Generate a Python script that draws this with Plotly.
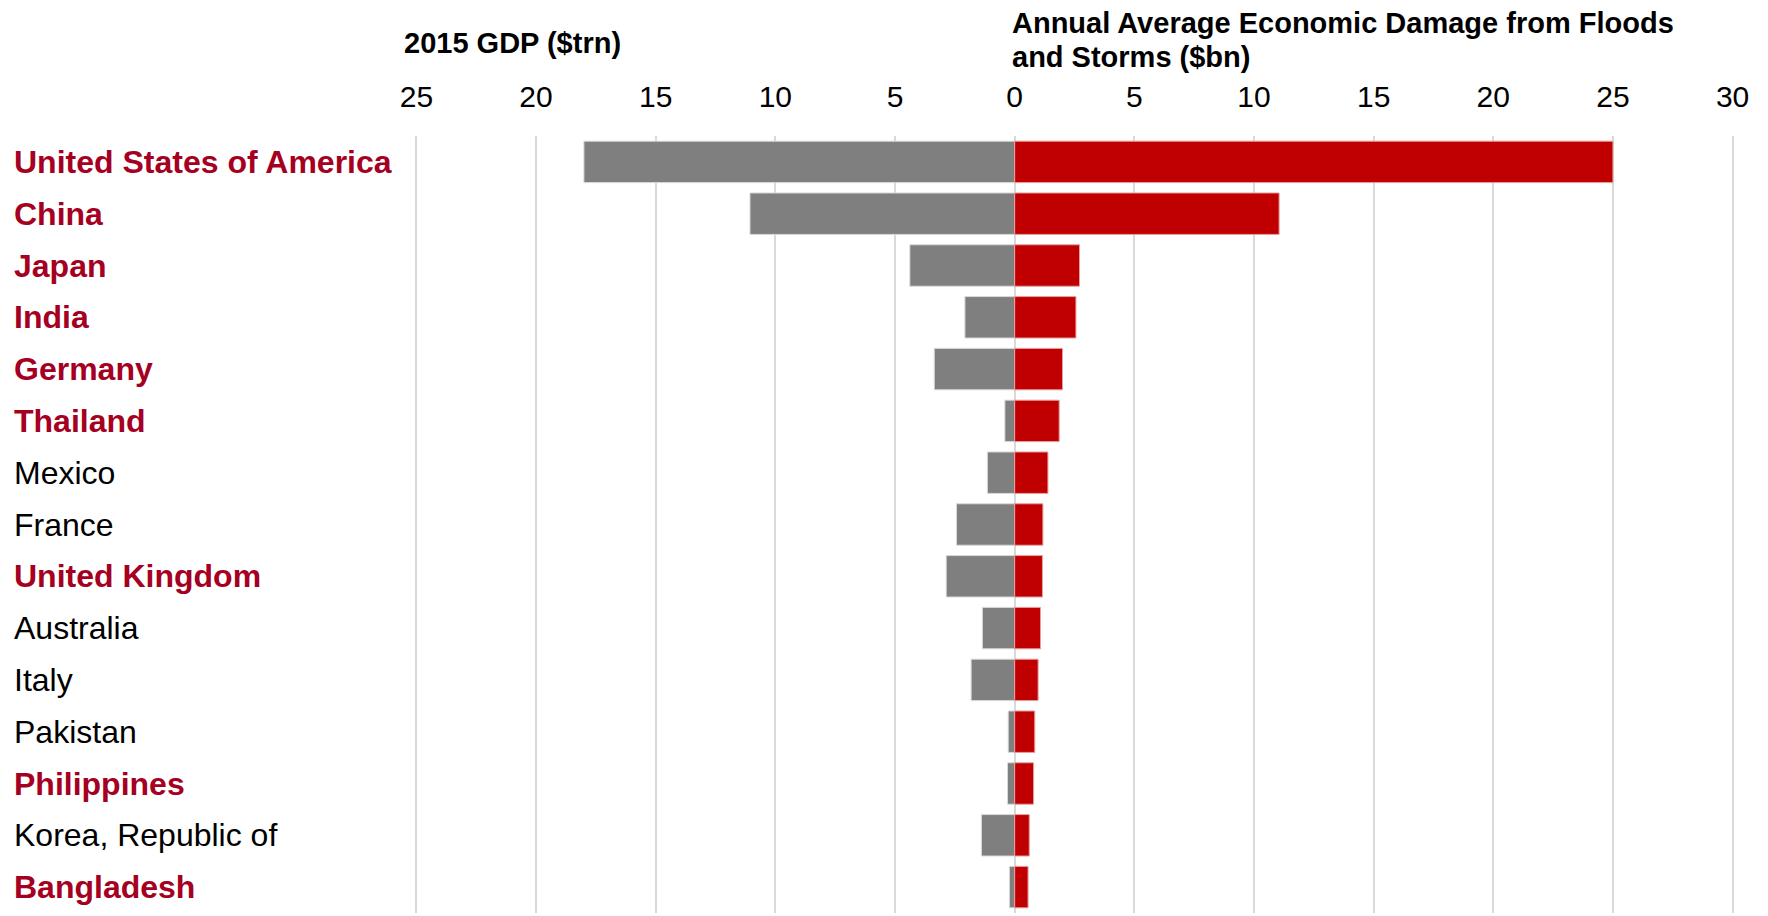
import plotly.graph_objects as go

countries = ["United States of America", "China", "Japan", "India", "Germany", "Thailand",
             "Mexico", "France", "United Kingdom", "Australia", "Italy", "Pakistan",
             "Philippines", "Korea, Republic of", "Bangladesh"]
highlight = [True, True, True, True, True, True, False, False, True, False, False, False,
             True, False, True]
gdp_trn = [18.0, 11.06, 4.38, 2.08, 3.36, 0.41, 1.14, 2.43, 2.86, 1.35, 1.82, 0.27, 0.30, 1.39, 0.22]
damage_bn = [25.0, 11.05, 2.71, 2.56, 2.0, 1.86, 1.39, 1.18, 1.16, 1.08, 0.98, 0.84, 0.79, 0.61, 0.56]
tick_vals = [-25, -20, -15, -10, -5, 0, 5, 10, 15, 20, 25, 30]
tick_text = ["25", "20", "15", "10", "5", "0", "5", "10", "15", "20", "25", "30"]

FONT = "Liberation Sans, Arial, sans-serif"
W, H = 1768, 916
L, R, T, B = 414, 33, 136, 3
plot_w = W - L - R
plot_h = H - T - B

fig = go.Figure()
fig.add_trace(go.Bar(
    y=countries, x=[-v for v in gdp_trn], orientation="h",
    marker=dict(color="#7f7f7f", line=dict(color="#d9d9d9", width=1)),
    name="2015 GDP ($trn)", showlegend=False,
))
fig.add_trace(go.Bar(
    y=countries, x=damage_bn, orientation="h",
    marker=dict(color="#c00000", line=dict(color="#e6a0a0", width=1)),
    name="Damage ($bn)", showlegend=False,
))

annotations = []
for c, hl in zip(countries, highlight):
    txt = f"<b>{c}</b>" if hl else c
    annotations.append(dict(
        x=(12 - L) / plot_w, xref="paper", y=c, yref="y",
        text=txt, showarrow=False, xanchor="left", yanchor="middle",
        font=dict(family=FONT, size=32, color="#a50021" if hl else "#000000"),
    ))

def py(pix):
    return 1 + (T - pix) / plot_h

annotations.append(dict(
    x=(402 - L) / plot_w, xref="paper", y=py(43), yref="paper",
    text="<b>2015 GDP ($trn)</b>", showarrow=False, xanchor="left", yanchor="middle",
    font=dict(family=FONT, size=29, color="#000000"),
))
annotations.append(dict(
    x=(1010 - L) / plot_w, xref="paper", y=py(23), yref="paper",
    text="<b>Annual Average Economic Damage from Floods</b>", showarrow=False,
    xanchor="left", yanchor="middle",
    font=dict(family=FONT, size=29, color="#000000"),
))
annotations.append(dict(
    x=(1010 - L) / plot_w, xref="paper", y=py(57), yref="paper",
    text="<b>and Storms ($bn)</b>", showarrow=False,
    xanchor="left", yanchor="middle",
    font=dict(family=FONT, size=29, color="#000000"),
))

fig.update_layout(
    width=W, height=H,
    margin=dict(l=L, r=R, t=T, b=B, pad=0),
    paper_bgcolor="white", plot_bgcolor="white",
    barmode="relative", bargap=0.2,
    font=dict(family=FONT, color="#000000"),
    annotations=annotations,
    xaxis=dict(
        side="top", range=[-25.1, 30.1], tickmode="array",
        tickvals=tick_vals, ticktext=tick_text,
        tickfont=dict(family=FONT, size=30, color="#000000"),
        showgrid=True, gridcolor="#d9d9d9", gridwidth=2,
        zeroline=True, zerolinecolor="#d9d9d9", zerolinewidth=2,
        showline=False, ticks="", ticklabelstandoff=22, fixedrange=True,
    ),
    yaxis=dict(
        autorange="reversed", showticklabels=False, showgrid=False,
        zeroline=False, showline=False, ticks="", fixedrange=True,
    ),
)

fig.write_html("out.html")
